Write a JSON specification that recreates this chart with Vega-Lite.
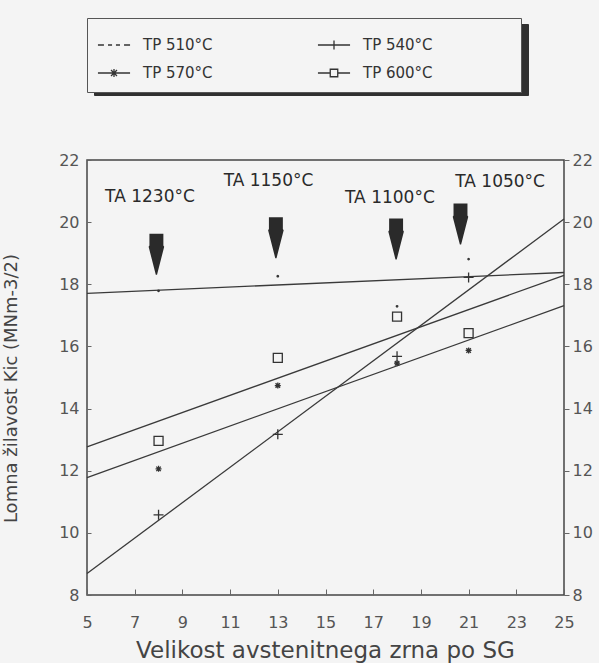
{
  "$schema": "https://vega.github.io/schema/vega-lite/v6.json",
  "width": 477,
  "height": 435,
  "autosize": {"type": "none"},
  "padding": {"left": 87, "top": 160, "right": 35, "bottom": 68},
  "background": "#f4f4f4",
  "config": {
    "view": {"stroke": "#444", "strokeWidth": 1.5},
    "font": "DejaVu Sans",
    "axis": {"grid": false, "domain": false, "labelFont": "DejaVu Sans", "titleFont": "DejaVu Sans", "titleFontWeight": "normal", "labelColor": "#555", "titleColor": "#444", "tickColor": "#666", "tickWidth": 1}
  },
  "datasets": {
    "lines": [
      {"series": "TP 510°C", "x": 5, "y": 17.71},
      {"series": "TP 510°C", "x": 25, "y": 18.38},
      {"series": "TP 540°C", "x": 5, "y": 8.69},
      {"series": "TP 540°C", "x": 25, "y": 20.1},
      {"series": "TP 570°C", "x": 5, "y": 11.78},
      {"series": "TP 570°C", "x": 25, "y": 17.31},
      {"series": "TP 600°C", "x": 5, "y": 12.77},
      {"series": "TP 600°C", "x": 25, "y": 18.29}
    ],
    "points": [
      {"series": "TP 510°C", "x": 8, "y": 17.79},
      {"series": "TP 510°C", "x": 13, "y": 18.26},
      {"series": "TP 510°C", "x": 18, "y": 17.29},
      {"series": "TP 510°C", "x": 21, "y": 18.81},
      {"series": "TP 540°C", "x": 8, "y": 10.58},
      {"series": "TP 540°C", "x": 13, "y": 13.17},
      {"series": "TP 540°C", "x": 18, "y": 15.68},
      {"series": "TP 540°C", "x": 21, "y": 18.22},
      {"series": "TP 570°C", "x": 8, "y": 12.06},
      {"series": "TP 570°C", "x": 13, "y": 14.74},
      {"series": "TP 570°C", "x": 18, "y": 15.46},
      {"series": "TP 570°C", "x": 21, "y": 15.87},
      {"series": "TP 600°C", "x": 8, "y": 12.96},
      {"series": "TP 600°C", "x": 13, "y": 15.63},
      {"series": "TP 600°C", "x": 18, "y": 16.96},
      {"series": "TP 600°C", "x": 21, "y": 16.43}
    ],
    "arrows": [
      {"x": 7.91, "y": 18.97},
      {"x": 12.92, "y": 19.5},
      {"x": 17.96, "y": 19.46},
      {"x": 20.66, "y": 19.94}
    ],
    "labels": [
      {"text": "TA 1230°C", "x": 7.64, "y": 20.81},
      {"text": "TA 1150°C", "x": 12.61, "y": 21.32},
      {"text": "TA 1100°C", "x": 17.7, "y": 20.79},
      {"text": "TA 1050°C", "x": 22.32, "y": 21.29}
    ]
  },
  "encoding": {
    "x": {
      "field": "x", "type": "quantitative",
      "scale": {"domain": [5, 25], "nice": false, "zero": false},
      "axis": {
        "values": [5, 7, 9, 11, 13, 15, 17, 19, 21, 23, 25],
        "tickSize": -6, "labelPadding": 25, "labelFontSize": 16, "labelFlush": false,
        "title": "Velikost avstenitnega zrna po SG",
        "titleFontSize": 23, "titleX": 238, "titleY": 62,
        "titleBaseline": "alphabetic", "titleAlign": "center"
      }
    }
  },
  "layer": [
    {
      "data": {"name": "lines"},
      "mark": {"type": "line", "color": "#3a3a3a"},
      "encoding": {
        "y": {
          "field": "y", "type": "quantitative",
          "scale": {"domain": [8, 22], "nice": false, "zero": false},
          "axis": {
            "orient": "left",
            "values": [8, 10, 12, 14, 16, 18, 20, 22],
            "tickSize": -4, "labelPadding": 12, "labelFontSize": 16,
            "title": "Lomna žilavost Kic (MNm-3/2)",
            "titleFontSize": 18, "titleX": -76, "titleY": 228,
            "titleAngle": -90, "titleBaseline": "middle", "titleAlign": "center"
          }
        },
        "strokeWidth": {
          "field": "series", "type": "nominal",
          "scale": {"range": [1.3, 1.3]},
          "legend": {
            "orient": "none", "direction": "horizontal", "legendX": 7, "legendY": -136, "title": null,
            "columns": 2, "columnPadding": 0, "rowPadding": 0, "padding": 0, "gridAlign": "all",
            "symbolSize": 400, "symbolOpacity": 0,
            "symbolType": "M-1,-2H20.55V2H-1Z",
            "labelExpr": "''", "labelOffset": 0, "labelFontSize": 1, "labelOpacity": 0,
            "fillColor": "#303030", "strokeColor": "#303030", "zindex": 0
          }
        }
      }
    },
    {
      "data": {"name": "points"},
      "mark": {"type": "point", "filled": false, "size": 100, "strokeWidth": 1.3, "color": "#333", "opacity": 1},
      "encoding": {
        "y": {
          "field": "y", "type": "quantitative",
          "scale": {"domain": [8, 22], "nice": false, "zero": false},
          "axis": {
            "orient": "right",
            "values": [8, 10, 12, 14, 16, 18, 20, 22],
            "tickSize": 5, "labelPadding": 3, "labelFontSize": 16, "title": null
          }
        },
        "shape": {
          "field": "series", "type": "nominal",
          "scale": {
            "domain": ["TP 510°C", "TP 540°C", "TP 570°C", "TP 600°C"],
            "range": [
              "M-0.15,0A0.15,0.15 0 1,0 0.15,0A0.15,0.15 0 1,0 -0.15,0Z",
              "M-1,0H1M0,-1V1",
              "M-0.6,0H0.6M0,-0.6V0.6M-0.45,-0.45L0.45,0.45M-0.45,0.45L0.45,-0.45",
              "M-0.9,-0.9H0.9V0.9H-0.9Z"
            ]
          },
          "legend": null
        }
      }
    },
    {
      "data": {"name": "points"},
      "mark": {"type": "point", "filled": false, "size": 100, "strokeWidth": 1.3, "color": "#333", "opacity": 0},
      "encoding": {
        "y": {"field": "y", "type": "quantitative", "scale": {"domain": [8, 22], "nice": false, "zero": false}, "axis": null},
        "shape": {
          "field": "series", "type": "nominal",
          "scale": {
            "domain": ["TP 510°C", "TP 540°C", "TP 570°C", "TP 600°C"],
            "range": [
              "M-1.07,0H-0.67M-0.4,0H-0.13M0.13,0H0.4M0.67,0H1.07",
              "M-1.07,0H1.07M0,-0.3V0.3",
              "M-1.07,0H1.07M-0.2,-0.2L0.2,0.2M-0.2,0.2L0.2,-0.2M0,-0.27V0.27",
              "M-1.07,0H-0.25M0.25,0H1.07M-0.25,-0.25H0.25V0.25H-0.25Z"
            ]
          },
          "legend": {
            "orient": "none", "direction": "horizontal", "legendX": 0, "legendY": -142, "title": null,
            "columns": 2, "columnPadding": 102, "rowPadding": 4, "padding": 11,
            "symbolSize": 900, "symbolStrokeWidth": 1.3, "symbolStrokeColor": "#333",
            "symbolFillColor": "transparent", "symbolOpacity": 1,
            "labelFont": "DejaVu Sans", "labelFontSize": 15, "labelColor": "#333",
            "labelOffset": 13,
            "labelExpr": "datum.label == 'TP 540°C' || datum.label == 'TP 600°C' ? datum.label + '\u2800\u2800\u2800\u2800\u2800\u2800\u2800' : datum.label",
            "fillColor": "#f4f4f4", "strokeColor": "#555", "zindex": 1
          }
        }
      }
    },
    {
      "data": {"name": "arrows"},
      "mark": {"type": "point", "shape": "M-0.34,-1H0.34V-0.42L0.38,-0.36L0.03,1H-0.03L-0.38,-0.36L-0.34,-0.42Z", "size": 1681, "filled": true, "color": "#2a2a2a", "opacity": 1, "strokeWidth": 0},
      "encoding": {
        "y": {"field": "y", "type": "quantitative", "scale": {"domain": [8, 22], "nice": false, "zero": false}, "axis": null}
      }
    },
    {
      "data": {"name": "labels"},
      "mark": {"type": "text", "font": "DejaVu Sans", "fontSize": 17, "color": "#2a2a2a"},
      "encoding": {
        "y": {"field": "y", "type": "quantitative", "scale": {"domain": [8, 22], "nice": false, "zero": false}, "axis": null},
        "text": {"field": "text", "type": "nominal"}
      }
    }
  ],
  "resolve": {"scale": {"y": "independent", "shape": "independent"}}
}
